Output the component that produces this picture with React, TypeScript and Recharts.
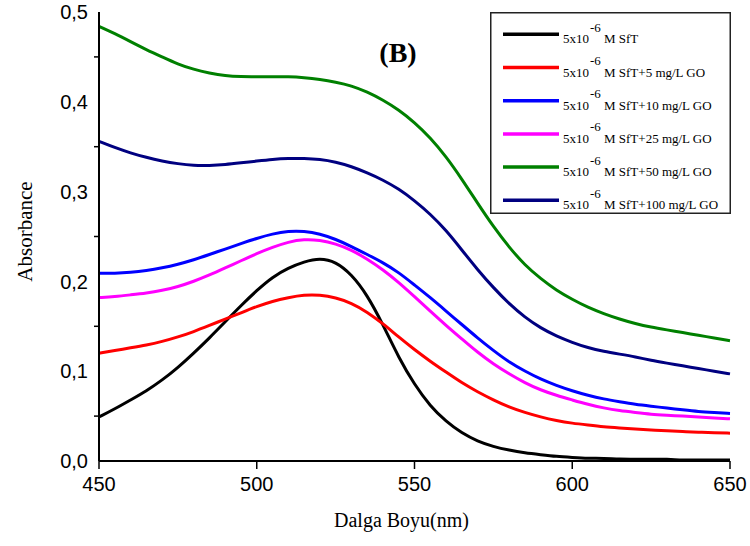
import React from 'react';
import { LineChart, Line, XAxis, YAxis, Legend, Label, Customized } from 'recharts';

const wavelengths = [450, 455, 460, 465, 470, 475, 480, 485, 490, 495, 500, 505, 510, 515, 520, 525, 530, 535, 540, 545, 550, 555, 560, 565, 570, 575, 580, 585, 590, 595, 600, 605, 610, 615, 620, 625, 630, 635, 640, 645, 650];

const sft = [0.049, 0.058, 0.068, 0.078, 0.090, 0.104, 0.120, 0.137, 0.155, 0.173, 0.190, 0.205, 0.215, 0.222, 0.226, 0.222, 0.208, 0.185, 0.152, 0.115, 0.085, 0.061, 0.044, 0.031, 0.022, 0.016, 0.012, 0.009, 0.007, 0.005, 0.004, 0.003, 0.003, 0.002, 0.002, 0.002, 0.002, 0.001, 0.001, 0.001, 0.001];
const go5 = [0.120, 0.123, 0.126, 0.129, 0.133, 0.138, 0.144, 0.151, 0.158, 0.165, 0.172, 0.178, 0.182, 0.185, 0.185, 0.182, 0.176, 0.166, 0.153, 0.138, 0.124, 0.111, 0.099, 0.087, 0.077, 0.068, 0.060, 0.054, 0.049, 0.045, 0.042, 0.040, 0.038, 0.0368, 0.0356, 0.0346, 0.0336, 0.0328, 0.0321, 0.0315, 0.031];
const go10 = [0.209, 0.209, 0.210, 0.212, 0.215, 0.219, 0.224, 0.230, 0.236, 0.242, 0.248, 0.253, 0.256, 0.256, 0.253, 0.247, 0.239, 0.230, 0.221, 0.210, 0.196, 0.182, 0.167, 0.152, 0.137, 0.123, 0.110, 0.100, 0.091, 0.084, 0.078, 0.073, 0.069, 0.066, 0.063, 0.061, 0.059, 0.057, 0.055, 0.054, 0.053];
const go25 = [0.182, 0.183, 0.185, 0.187, 0.190, 0.194, 0.200, 0.207, 0.215, 0.223, 0.231, 0.238, 0.244, 0.247, 0.246, 0.242, 0.235, 0.225, 0.213, 0.199, 0.183, 0.167, 0.151, 0.136, 0.121, 0.108, 0.097, 0.087, 0.079, 0.073, 0.068, 0.063, 0.059, 0.056, 0.054, 0.052, 0.051, 0.050, 0.049, 0.048, 0.047];
const go50 = [0.484, 0.476, 0.467, 0.458, 0.450, 0.442, 0.436, 0.432, 0.429, 0.428, 0.428, 0.428, 0.428, 0.427, 0.425, 0.422, 0.418, 0.411, 0.402, 0.391, 0.377, 0.360, 0.339, 0.314, 0.287, 0.261, 0.238, 0.218, 0.203, 0.190, 0.180, 0.171, 0.164, 0.158, 0.153, 0.149, 0.146, 0.143, 0.140, 0.137, 0.134];
const go100 = [0.356, 0.349, 0.343, 0.338, 0.334, 0.331, 0.329, 0.329, 0.330, 0.332, 0.334, 0.336, 0.337, 0.337, 0.336, 0.333, 0.328, 0.321, 0.313, 0.303, 0.290, 0.275, 0.257, 0.235, 0.213, 0.193, 0.175, 0.160, 0.148, 0.139, 0.132, 0.126, 0.122, 0.119, 0.116, 0.112, 0.109, 0.106, 0.103, 0.100, 0.097];

const seriesKeys = ['sft', 'go5', 'go10', 'go25', 'go50', 'go100'];
const seriesValues = [sft, go5, go10, go25, go50, go100];
const seriesColors = ['#000000', '#ff0000', '#0000ff', '#ff00ff', '#008000', '#000080'];
const legendPrefix = '5x10';
const legendExponent = '-6';
const legendNames = ['M SfT', 'M SfT+5 mg/L GO', 'M SfT+10 mg/L GO', 'M SfT+25 mg/L GO', 'M SfT+50 mg/L GO', 'M SfT+100 mg/L GO'];

const xTicks = [450, 500, 550, 600, 650];
const yTicks = [0, 0.05, 0.1, 0.15, 0.2, 0.25, 0.3, 0.35, 0.4, 0.45, 0.5];

const data = wavelengths.map((nm, i) => {
  const row: Record<string, number> = { nm };
  seriesKeys.forEach((k, s) => {
    row[k] = seriesValues[s][i];
  });
  return row;
});

const SANS = '"Liberation Sans", Arial, sans-serif';
const SERIF = '"Liberation Serif", "Times New Roman", serif';
const Y_TICK_SIZE = 5;
const Y_TICK_MARGIN = 6;

const YTick = (props: any) => {
  const { x, y, payload } = props;
  const v = payload.value as number;
  const major = Math.round(v * 100) % 10 === 0;
  if (!major) {
    return (
      <line x1={x + Y_TICK_MARGIN} x2={x + Y_TICK_MARGIN + Y_TICK_SIZE} y1={y} y2={y} stroke="#000" strokeWidth={1.5} />
    );
  }
  return (
    <text x={x} y={y} dy="0.355em" textAnchor="end" fontFamily={SANS} fontSize={20} fill="#000">
      {v.toFixed(1).replace('.', ',')}
    </text>
  );
};

const LegendBox = () => (
  <svg width={242} height={203} style={{ display: 'block', overflow: 'visible' }}>
    <rect x={0.75} y={0.75} width={239.5} height={200.5} fill="#fff" stroke="#222" strokeWidth={1.5} />
    {legendNames.map((name, i) => {
      const ly = 22.3 + 33.2 * i;
      const base = ly + 9;
      return (
        <g key={name}>
          <line x1={13} x2={69} y1={ly} y2={ly} stroke={seriesColors[i]} strokeWidth={3.5} />
          <text x={73} y={base} fontFamily={SERIF} fontSize={13} fill="#000">{legendPrefix}</text>
          <text x={100} y={base - 11.5} fontFamily={SERIF} fontSize={13} fill="#000">{legendExponent}</text>
          <text x={114} y={base} fontFamily={SERIF} fontSize={13} fill="#000">{name}</text>
        </g>
      );
    })}
  </svg>
);

export default function App() {
  return (
    <div style={{ position: 'absolute', left: 0, top: 0, width: 750, height: 546, background: '#fff' }}>
      <LineChart width={750} height={546} data={data} margin={{ top: 12, right: 20, bottom: 0, left: 0 }}>
        <XAxis
          dataKey="nm"
          type="number"
          domain={[450, 650]}
          ticks={xTicks}
          height={85}
          tickSize={8}
          tickMargin={8}
          axisLine={{ stroke: '#000', strokeWidth: 2 }}
          tickLine={{ stroke: '#000', strokeWidth: 1.5 }}
          tick={{ fontFamily: SANS, fontSize: 20, fill: '#000' }}
          interval={0}
        >
          <Label
            content={(p: any) => {
              const vb = p.viewBox;
              return (
                <text x={vb.x + vb.width / 2 - 13} y={vb.y + 66} textAnchor="middle" fontFamily={SERIF} fontSize={20} fill="#000">
                  Dalga Boyu(nm)
                </text>
              );
            }}
          />
        </XAxis>
        <XAxis
          xAxisId="top"
          dataKey="nm"
          type="number"
          domain={[450, 650]}
          orientation="top"
          height={0}
          tick={false}
          tickLine={false}
          axisLine={{ stroke: '#000', strokeWidth: 2 }}
        />
        <YAxis
          type="number"
          domain={[0, 0.5]}
          ticks={yTicks}
          width={99}
          interval={0}
          tickSize={Y_TICK_SIZE}
          tickMargin={Y_TICK_MARGIN}
          tickLine={false}
          axisLine={{ stroke: '#000', strokeWidth: 2 }}
          tick={<YTick />}
        >
          <Label
            content={(p: any) => {
              const vb = p.viewBox;
              const cx = vb.x + 25;
              const cy = vb.y + vb.height / 2 - 5;
              return (
                <text x={cx} y={cy} textAnchor="middle" dominantBaseline="central" transform={`rotate(-90 ${cx} ${cy})`} fontFamily={SERIF} fontSize={21} fill="#000">
                  Absorbance
                </text>
              );
            }}
          />
        </YAxis>
        <YAxis
          yAxisId="right"
          type="number"
          domain={[0, 0.5]}
          orientation="right"
          width={0}
          tick={false}
          tickLine={false}
          axisLine={{ stroke: '#000', strokeWidth: 2 }}
        />
        {seriesKeys.map((k, i) => (
          <Line
            key={k}
            dataKey={k}
            name={legendNames[i]}
            type="basis"
            stroke={seriesColors[i]}
            strokeWidth={3}
            dot={false}
            activeDot={false}
            isAnimationActive={false}
          />
        ))}
        <Customized
          component={() => (
            <text x={398} y={62} textAnchor="middle" fontFamily={SERIF} fontWeight="bold" fontSize={28} fill="#000">
              (B)
            </text>
          )}
        />
        <Legend
          layout="horizontal"
          verticalAlign="middle"
          align="center"
          content={() => <LegendBox />}
          wrapperStyle={{ position: 'absolute', left: 490, top: 12, width: 242, height: 203, margin: 0, padding: 0 }}
        />
      </LineChart>
    </div>
  );
}
